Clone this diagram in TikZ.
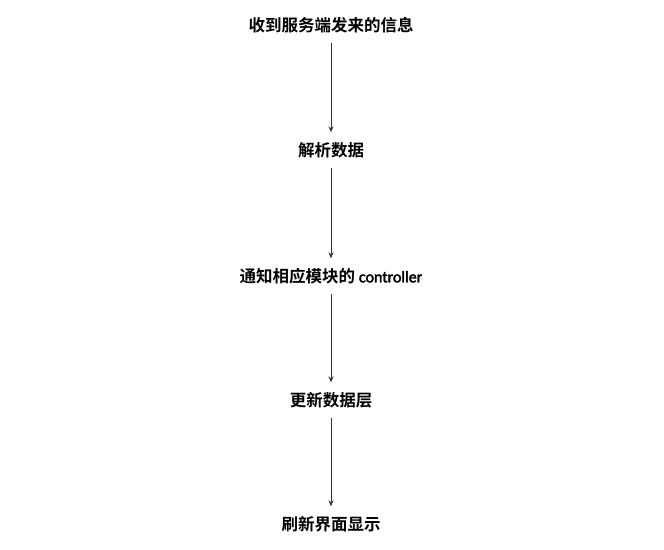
\documentclass[tikz,border=0pt]{standalone}
\usepackage{fontspec}
\setmainfont{Carlito}
\newfontfamily\cjk{Noto Sans CJK SC Bold}
\newfontfamily\latinb{Carlito}[FakeBold=2.5]
\usetikzlibrary{arrows.meta}
\tikzset{
  stepbox/.style={minimum height=35pt, inner sep=0pt, font=\cjk\fontsize{16.5}{18}\selectfont, text=black},
  flow/.style={draw=black!80, line width=0.9pt, -{Stealth[length=6pt,width=5pt]}}
}
\begin{document}
\begin{tikzpicture}[x=1pt,y=-1pt]
\useasboundingbox (0,0) rectangle (664,549);
\node[stepbox] (a) at (331,25) {收到服务端发来的信息};
\node[stepbox] (b) at (331,150) {解析数据};
\node[stepbox] (c) at (331,276) {通知相应模块的 {\latinb\fontsize{16}{18}\selectfont controller}};
\node[stepbox] (d) at (331,400) {更新数据层};
\node[stepbox] (e) at (331,524) {刷新界面显示};
\draw[flow] (a) -- (b);
\draw[flow] (b) -- (c);
\draw[flow] (c) -- (d);
\draw[flow] (d) -- (e);
\end{tikzpicture}
\end{document}
